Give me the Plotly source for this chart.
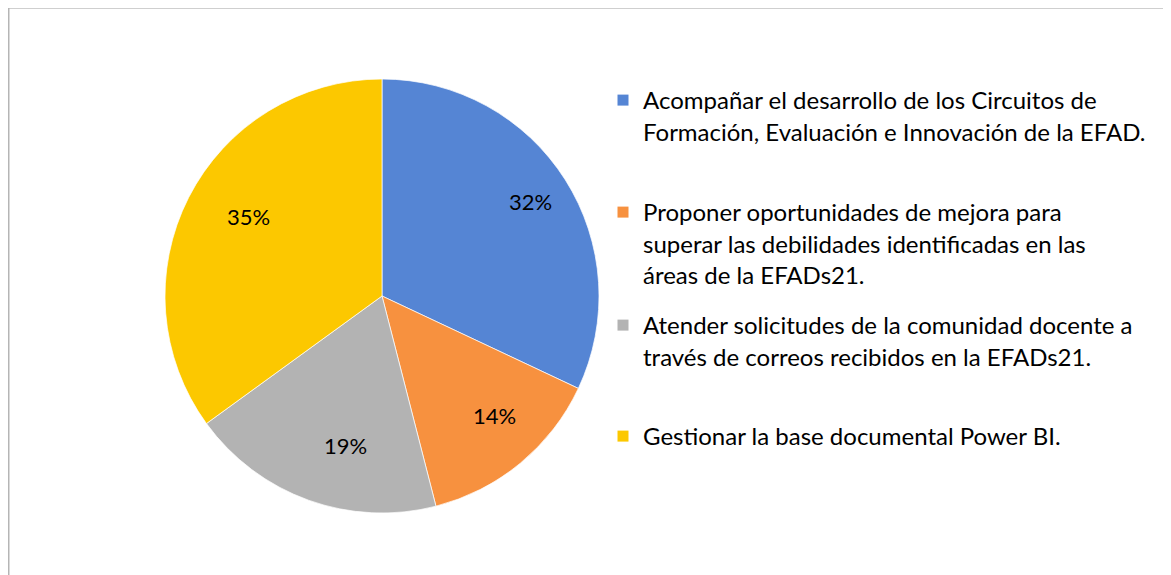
import math
import plotly.graph_objects as go

# datos del gráfico
categorias = [
    "Acompañar el desarrollo de los Circuitos de<br>Formación, Evaluación e Innovación de la EFAD.",
    "Proponer oportunidades de mejora para<br>superar las debilidades identificadas en las<br>áreas de la EFADs21.",
    "Atender solicitudes de la comunidad docente a<br>través de correos recibidos en la EFADs21.",
    "Gestionar la base documental Power BI.",
]
porcentajes = [32, 14, 19, 35]
colores = ["#5585d4", "#f7913f", "#b3b3b3", "#fcc800"]

# la página tiene 8px de margen, el lienzo visible es 1163x567
W, H = 1163, 567
FONT = "Lato"
CX, CY, R = 374, 288, 217   # centro y radio del pastel (px del lienzo)

fig = go.Figure()

fig.add_trace(go.Pie(
    values=porcentajes,
    labels=categorias,
    sort=False,
    direction="clockwise",
    rotation=0,
    marker=dict(colors=colores, line=dict(color="white", width=0.7)),
    textinfo="none",
    showlegend=False,
    hoverinfo="label+percent",
    domain=dict(x=[(CX - R) / W, (CX + R) / W],
                y=[(H - CY - R) / H, (H - CY + R) / H]),
))

# etiquetas de porcentaje cerca del borde, como en Excel
total = sum(porcentajes)
annotations = []
acum = 0
for v in porcentajes:
    ang = math.radians((acum + v / 2) / total * 360)
    acum += v
    r = 0.81 * R
    annotations.append(dict(
        x=(CX + r * math.sin(ang)) / W, y=(H - CY + r * math.cos(ang)) / H,
        xref="paper", yref="paper", showarrow=False,
        text=f"{round(v / total * 100)}%",
        font=dict(family=FONT, size=22, color="black"),
    ))

# leyenda: una por elemento para imitar el espaciado de Excel
legend_tops = [70, 182, 295, 406]
legend_names = ["legend", "legend2", "legend3", "legend4"]
layout_legends = {}
for cat, col, top, lg in zip(categorias, colores, legend_tops, legend_names):
    fig.add_trace(go.Scatter(
        x=[None], y=[None], mode="markers", name=cat, legend=lg,
        marker=dict(symbol="square", size=11, color=col),
    ))
    layout_legends[lg] = dict(
        x=595 / W, xanchor="left", y=1 - top / H, yanchor="top",
        font=dict(family=FONT, size=24, color="black"),
        bgcolor="rgba(0,0,0,0)", valign="top",
        itemclick=False, itemdoubleclick=False,
    )

fig.update_layout(
    width=W, height=H,
    margin=dict(l=0, r=0, t=0, b=0),
    paper_bgcolor="white", plot_bgcolor="white",
    font=dict(family=FONT),
    xaxis=dict(visible=False), yaxis=dict(visible=False),
    annotations=annotations,
    shapes=[
        dict(type="line", xref="paper", yref="paper", x0=0, x1=1, y0=1 - 0.5 / H, y1=1 - 0.5 / H,
             line=dict(color="#cfcfcf", width=1)),
        dict(type="line", xref="paper", yref="paper", x0=0.75 / W, x1=0.75 / W, y0=0, y1=1,
             line=dict(color="#b5b5b5", width=1.5)),
    ],
    **layout_legends,
)

fig.write_html("out.html")
